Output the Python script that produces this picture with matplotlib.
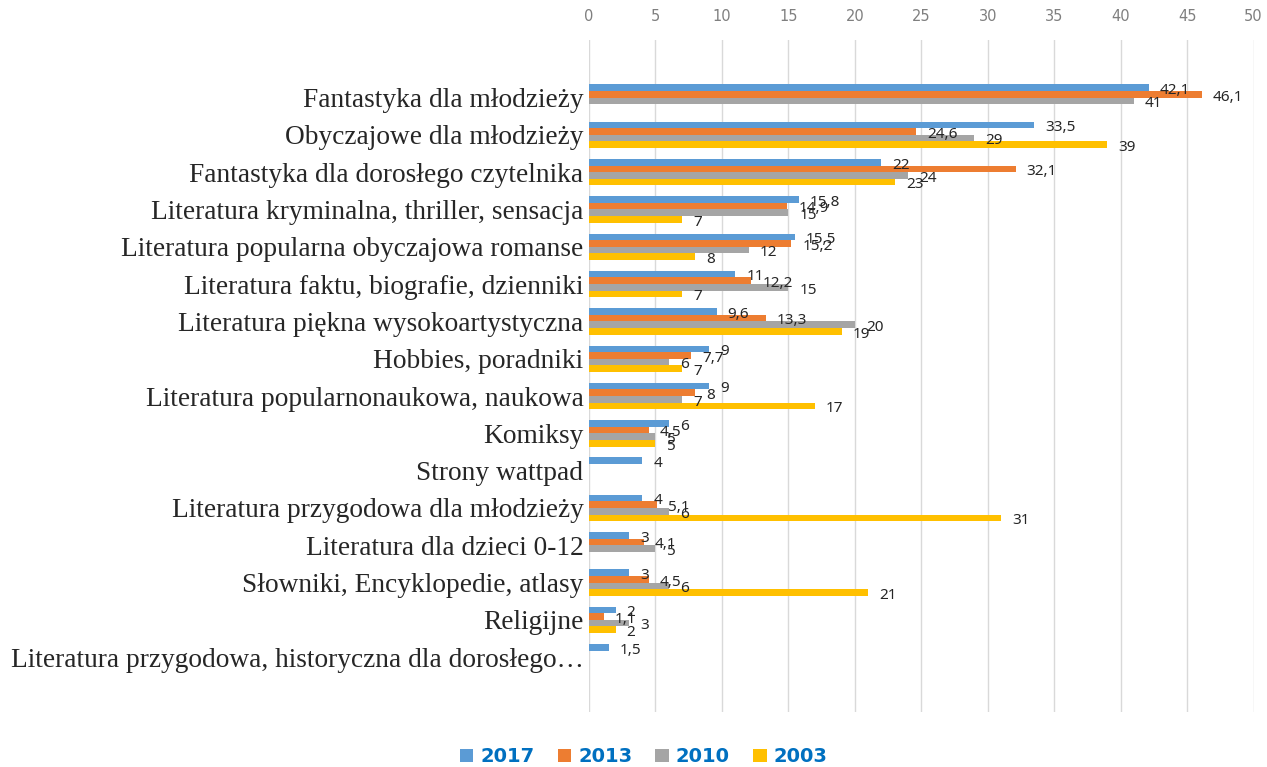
import matplotlib
matplotlib.use("Agg")
import matplotlib.pyplot as plt
import numpy as np

categories = [
    "Fantastyka dla młodzieży",
    "Obyczajowe dla młodzieży",
    "Fantastyka dla dorosłego czytelnika",
    "Literatura kryminalna, thriller, sensacja",
    "Literatura popularna obyczajowa romanse",
    "Literatura faktu, biografie, dzienniki",
    "Literatura piękna wysokoartystyczna",
    "Hobbies, poradniki",
    "Literatura popularnonaukowa, naukowa",
    "Komiksy",
    "Strony wattpad",
    "Literatura przygodowa dla młodzieży",
    "Literatura dla dzieci 0-12",
    "Słowniki, Encyklopedie, atlasy",
    "Religijne",
    "Literatura przygodowa, historyczna dla dorosłego…",
]

v2017 = [42.1, 33.5, 22, 15.8, 15.5, 11, 9.6, 9, 9, 6, 4, 4, 3, 3, 2, 1.5]
v2013 = [46.1, 24.6, 32.1, 14.9, 15.2, 12.2, 13.3, 7.7, 8, 4.5, None, 5.1, 4.1, 4.5, 1.1, None]
v2010 = [41, 29, 24, 15, 12, 15, 20, 6, 7, 5, None, 6, 5, 6, 3, None]
v2003 = [None, 39, 23, 7, 8, 7, 19, 7, 17, 5, None, 31, None, 21, 2, None]

series = [("2017", v2017, "#5B9BD5"),
          ("2013", v2013, "#ED7D31"),
          ("2010", v2010, "#A5A5A5"),
          ("2003", v2003, "#FFC000")]

fig = plt.figure(figsize=(12.67, 7.67), dpi=100)
ax = fig.add_axes([0.4649, 0.0717, 0.5245, 0.8765])

y = np.arange(len(categories))
h = 0.177
for i, (name, vals, col) in enumerate(series):
    off = (i - 1.5) * h
    xs = [v if v is not None else 0 for v in vals]
    ax.barh(y + off, xs, height=h, color=col, label=name, zorder=2)
    for k, v in enumerate(vals):
        if v is None:
            continue
        txt = ("%g" % v).replace(".", ",")
        ax.annotate(txt, (v, y[k] + off), xytext=(8, -2), textcoords="offset points",
                    ha="left", va="center", fontsize=11, color="#262626",
                    family="Noto Sans", zorder=3)

ax.set_xlim(0, 50)
ax.set_ylim(16.47, -1.55)
ax.set_xticks(np.arange(0, 51, 5))
ax.xaxis.tick_top()
ax.tick_params(axis="x", length=0, pad=11.5, labelsize=10.5, labelcolor="#7f7f7f")
ax.set_yticks(y)
ax.set_yticklabels(categories, family="Liberation Serif", fontsize=19.7, color="#262626")
ax.tick_params(axis="y", length=0, pad=4)
ax.grid(axis="x", color="#d9d9d9", lw=1, zorder=0)
for s in ax.spines.values():
    s.set_visible(False)

leg = fig.legend(loc="lower center", bbox_to_anchor=(0.508, -0.022), ncol=4, frameon=False,
                 handlelength=0.7, handleheight=0.7, handletextpad=0.35, columnspacing=1.2,
                 prop={"family": "DejaVu Sans", "weight": "bold", "size": 14})
for t in leg.get_texts():
    t.set_color("#0070C0")

fig.savefig("out.png", dpi=100)
